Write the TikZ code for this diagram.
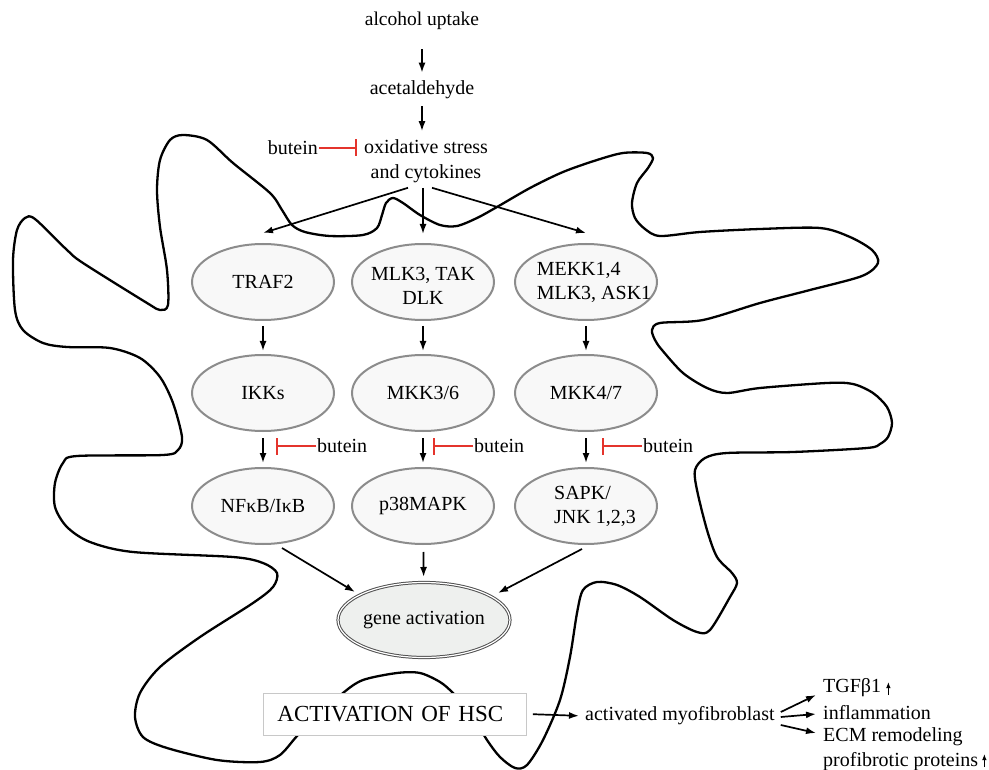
\documentclass[tikz,border=0pt]{standalone}
\usepackage{fontspec}
\setmainfont{Liberation Serif}
\usetikzlibrary{shapes.geometric,arrows.meta}
\definecolor{butred}{RGB}{228,52,44}
\definecolor{ellfill}{RGB}{248,248,248}
\definecolor{elldraw}{RGB}{140,140,140}
\definecolor{genefill}{RGB}{238,240,238}
\definecolor{genedraw}{RGB}{80,80,80}
\definecolor{boxdraw}{RGB}{200,200,200}
\begin{document}
\begin{tikzpicture}[x=1pt,y=-1pt,
  txt/.style={font=\fontsize{20}{25}\selectfont, inner sep=1pt},
  kin/.style={ellipse, draw=elldraw, line width=2pt, fill=ellfill,
    minimum width=142pt, minimum height=76pt, inner sep=0pt,
    font=\fontsize{20}{24}\selectfont},
  lab/.style={font=\fontsize{20}{24}\selectfont, inner sep=0pt},
  gene/.style={ellipse, draw=genedraw, double=white, double distance=1.2pt,
    line width=1pt, fill=genefill, minimum width=162pt, minimum height=75pt,
    inner sep=0pt, font=\fontsize{20}{24}\selectfont},
  hscbox/.style={draw=boxdraw, line width=0.9pt, fill=white, anchor=west,
    minimum height=42pt, inner xsep=14pt, text width=235pt, align=left,
    font=\fontsize{23}{26}\selectfont},
  arr/.style={line width=1.7pt, -{Latex[length=10pt,width=7pt]}},
  uparr/.style={line width=1.1pt, -{Latex[length=6pt,width=4.5pt]}},
  inh/.style={draw=butred, line width=1.4pt, -{Bar[width=17pt,line width=1.6pt]}},
  cell/.style={line width=2.3pt, line join=round}]
\useasboundingbox (0,0) rectangle (989,770);

% cell outline
\draw[cell] plot[smooth cycle, tension=0.5] coordinates {
(183,135) (207,140) (233,163) (270,193) (282,210) (292,225) (305,232) (330,236)
(363,235) (377,228) (382,215) (386,203) (393,198) (403,203) (420,215) (440,225)
(457,226) (477,218) (497,207) (530,188) (563,172) (597,160) (623,153) (647,153)
(653,158) (648,168) (637,183) (632,203) (635,218) (645,229) (660,236) (700,232)
(760,229) (820,228) (850,237) (872,250) (878,263) (862,276) (810,290) (760,303)
(703,320) (660,323) (652,330) (655,340) (662,350) (683,373) (707,388) (727,393)
(760,388) (827,383) (853,384) (873,393) (887,407) (892,423) (888,437) (880,444)
(867,448) (793,452) (727,453) (705,458) (695,470) (697,490) (707,530) (717,557)
(732,573) (737,583) (730,597) (710,630) (697,632) (673,620) (640,597) (617,585)
(597,582) (583,590) (577,613) (570,657) (560,700) (543,740) (527,765) (515,768)
(500,757) (487,740) (470,712) (453,693) (440,682) (420,673) (397,673) (363,680)
(343,693) (320,715) (298,735) (280,755) (260,762) (217,760) (167,748) (143,737)
(135,717) (140,693) (160,667) (200,637) (253,603) (273,587) (277,573) (263,563)
(233,557) (133,552) (90,542) (67,527) (55,507) (55,483) (63,463) (77,456)
(163,455) (178,450) (182,437) (173,403) (160,377) (140,358) (110,348) (67,347)
(43,343) (23,330) (15,310) (13,260) (17,230) (25,218) (35,219) (67,250)
(83,263) (147,303) (160,310) (168,305) (167,270) (160,227) (157,190) (160,160)
(170,140)};

% top chain
\node[txt, font=\fontsize{19.5}{25}\selectfont] (alc) at (422,21) {alcohol uptake};
\node[txt] (ace) at (422,90) {acetaldehyde};
\node[txt, align=center] (ox) at (426,161) {oxidative stress\\and cytokines};
\node[txt, anchor=east] (b0) at (319,148) {butein};
\coordinate (oxs) at ([yshift=-4pt]ox.south);

\draw[arr, shorten <=18pt, shorten >=7pt] (alc) -- (ace);
\draw[arr, shorten <=6pt, shorten >=7pt] (ace) -- (ace |- ox.north);
\draw[inh] (b0.east) -- ++(38,0);

% kinase ellipses
\node[kin] (traf) at (263,282) {TRAF2};
\node[kin, label={[lab,align=center,yshift=-4pt]center:{MLK3, TAK\\DLK}}] (mlk) at (423,282) {};
\node[kin, label={[lab,align=left,xshift=8pt]center:{MEKK1,4\\MLK3, ASK1}}] (mekk) at (586,282) {};
\node[kin] (ikk) at (263,393) {IKKs};
\node[kin] (mkk36) at (423,393) {MKK3/6};
\node[kin] (mkk47) at (586,393) {MKK4/7};
\node[kin] (nfkb) at (263,506) {NFκB/IκB};
\node[kin] (p38) at (423,506) {p38MAPK};
\node[kin, label={[lab,align=left,xshift=9pt]center:{SAPK/\\JNK 1,2,3}}] (sapk) at (586,506) {};

\draw[arr] ([xshift=-18pt]oxs) -- ([yshift=10pt]traf.north);
\draw[arr] (oxs -| mlk) -- ([yshift=9pt]mlk.north);
\draw[arr] ([xshift=6pt]oxs) -- ([yshift=10pt]mekk.north);

\foreach \a/\b in {traf/ikk, mlk/mkk36, mekk/mkk47}
  \draw[arr, shorten <=5pt, shorten >=3pt] (\a) -- (\b);
\foreach \a/\b in {ikk/nfkb, mkk36/p38, mkk47/sapk}
  \draw[arr, shorten <=6pt, shorten >=4pt] (\a) -- (\b);

% butein inhibitions
\node[txt, anchor=west] (bi1) at (316,446) {butein};
\node[txt, anchor=west] (bi2) at (473,446) {butein};
\node[txt, anchor=west] (bi3) at (642,446) {butein};
\draw[inh] (bi1.west) -- ++(-40,0);
\draw[inh] (bi2.west) -- ++(-40,0);
\draw[inh] (bi3.west) -- ++(-40,0);

% gene activation
\node[gene] (gene) at (424,620) {gene activation};
\draw[arr] ([xshift=19pt,yshift=-3pt]nfkb.south) -- ([xshift=-69pt,yshift=28pt]gene.center);
\draw[arr, shorten <=7pt, shorten >=5pt] (p38) -- (gene);
\draw[arr] ([xshift=-4pt,yshift=-4pt]sapk.south) -- ([xshift=74pt,yshift=27pt]gene.center);

% activation of HSC
\node[hscbox] (hsc) at (263,714) {ACTIVATION OF HSC};
\node[txt, anchor=west] (myo) at (584,716) {activated myofibroblast};
\draw[arr, shorten <=6pt, shorten >=5pt] (hsc.east) -- (myo.west);

\node[txt, anchor=west] (tgf) at (822,688) {TGFβ1};
\node[txt, anchor=west] (infl) at (822,713) {inflammation};
\node[txt, anchor=west] (ecm) at (822,737) {ECM remodeling};
\node[txt, anchor=west] (prot) at (822,762) {profibrotic proteins};

\draw[arr] ([xshift=5pt,yshift=4pt]myo.east) -- ([xshift=-6pt,yshift=-7pt]tgf.west);
\draw[arr] ([xshift=5pt,yshift=-1pt]myo.east) -- ([xshift=-6pt,yshift=-1pt]infl.west);
\draw[arr] ([xshift=5pt,yshift=-9pt]myo.east) -- ([xshift=-6pt,yshift=4pt]ecm.west);

\draw[uparr] ([xshift=6pt,yshift=-7pt]tgf.east) -- ++(0,-13);
\draw[uparr] ([xshift=5pt,yshift=-5pt]prot.east) -- ++(0,-13);
\end{tikzpicture}
\end{document}
